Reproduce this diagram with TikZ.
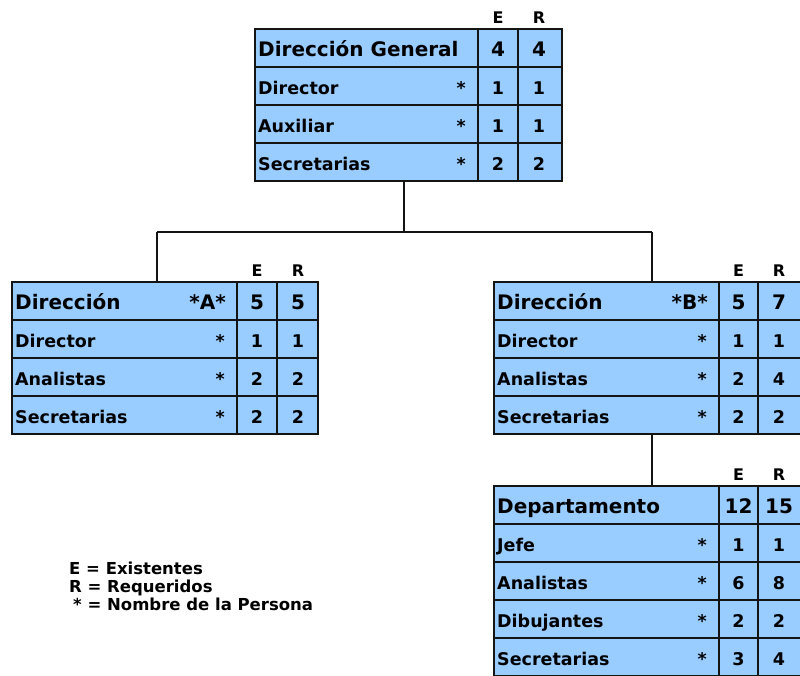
\documentclass[tikz,border=0pt]{standalone}
\usepackage{fontspec}
\setmainfont{DejaVu Sans}
\definecolor{boxblue}{RGB}{153,204,255}
\definecolor{lin}{RGB}{20,20,20}
\tikzset{
  x=1pt, y=-1pt,
  tabbox/.style={fill=boxblue, draw=none, inner sep=0pt, outer sep=0pt, anchor=north west},
  gridline/.style={draw=lin, line width=1.7pt},
  conn/.style={draw=lin, line width=1.7pt},
  headtxt/.style={font=\bfseries\fontsize{20}{21}\selectfont, inner sep=0pt, anchor=base},
  rowtxt/.style={font=\bfseries\fontsize{17.5}{18}\selectfont, inner sep=0pt, anchor=base},
  coltxt/.style={font=\bfseries\fontsize{16}{17}\selectfont, inner sep=0pt, anchor=base},
  legtxt/.style={font=\bfseries\fontsize{16.5}{18}\selectfont, inner sep=0pt, align=left, anchor=north west},
}
% #1 name, #2 left, #3 top, #4 c1, #5 c2, #6 right, #7 number of rows
\newcommand\tabgrid[7]{%
  \node[tabbox, minimum width={(#6-#2)*1pt}, minimum height={#7*38pt}] (#1) at (#2,#3) {};
  \foreach \k in {1,...,\the\numexpr#7-1\relax}{\draw[gridline] (#2,#3+\k*38) -- (#6,#3+\k*38);}
  \draw[gridline] (#4,#3) -- (#4,#3+#7*38);
  \draw[gridline] (#5,#3) -- (#5,#3+#7*38);
  \draw[gridline] (#1.north west) rectangle (#1.south east);
  \node[coltxt] (#1-E) at ({(#4+#5)/2},#3-6) {E};
  \node[coltxt] (#1-R) at (#5+21,#3-6) {R};
}
% #1 name, #2 left, #3 top, #4 c1, #5 c2, #6 title, #7 tag, #8 E, #9 R
\newcommand\tabhead[9]{%
  \node[headtxt, anchor=base west] (#1-h) at (#2+3,#3+27) {#6};
  \node[headtxt, anchor=base east] (#1-tag) at (#4-11,#3+27) {#7};
  \node[headtxt] (#1-he) at ({(#4+#5)/2},#3+27) {#8};
  \node[headtxt] (#1-hr) at (#5+21,#3+27) {#9};
}
% #1 name, #2 left, #3 top, #4 c1, #5 c2, #6 list
\newcommand\tabrows[6]{%
  \foreach \lab/\ev/\rv [count=\i] in {#6}{%
    \node[rowtxt, anchor=base west] (#1-t\i) at (#2+3,#3+\i*38+27) {\lab};
    \node[rowtxt, anchor=base east] (#1-a\i) at (#4-12,#3+\i*38+27) {*};
    \node[rowtxt] (#1-e\i) at ({(#4+#5)/2},#3+\i*38+27) {\ev};
    \node[rowtxt] (#1-r\i) at (#5+21,#3+\i*38+27) {\rv};
  }%
}
\begin{document}
\begin{tikzpicture}
\useasboundingbox (0,0) rectangle (800,675);
\clip (0,0) rectangle (800,675);
\fill[white] (0,0) rectangle (800,675);

% Dirección General
\tabgrid{dg}{255}{29}{478}{518}{562}{4}
\tabhead{dg}{255}{29}{478}{518}{Dirección General}{}{4}{4}
\tabrows{dg}{255}{29}{478}{518}{Director/1/1, Auxiliar/1/1, Secretarias/2/2}

% Dirección A
\tabgrid{da}{12}{282}{237}{277}{318}{4}
\tabhead{da}{12}{282}{237}{277}{Dirección}{*A*}{5}{5}
\tabrows{da}{12}{282}{237}{277}{Director/1/1, Analistas/2/2, Secretarias/2/2}

% Dirección B
\tabgrid{db}{494}{282}{719}{758}{801}{4}
\tabhead{db}{494}{282}{719}{758}{Dirección}{*B*}{5}{7}
\tabrows{db}{494}{282}{719}{758}{Director/1/1, Analistas/2/4, Secretarias/2/2}

% Departamento
\tabgrid{dep}{494}{486}{719}{758}{801}{5}
\tabhead{dep}{494}{486}{719}{758}{Departamento}{}{12}{15}
\tabrows{dep}{494}{486}{719}{758}{Jefe/1/1, Analistas/6/8, Dibujantes/2/2, Secretarias/3/4}

% connectors
\coordinate (busM) at (404,232);
\coordinate (busL) at (157,232);
\coordinate (busR) at (652,232);
\draw[conn] (dg.south -| busM) -- (busM);
\draw[conn] (busL) -- (busR);
\draw[conn] (busL) -- (da.north -| busL);
\draw[conn] (busR) -- (db.north -| busR);
\draw[conn] (db.south -| busR) -- (dep.north -| busR);

% legend
\node[legtxt] (legend) at (69,562) {E = Existentes\\R = Requeridos\\\hspace{4pt}* = Nombre de la Persona};
\end{tikzpicture}
\end{document}
